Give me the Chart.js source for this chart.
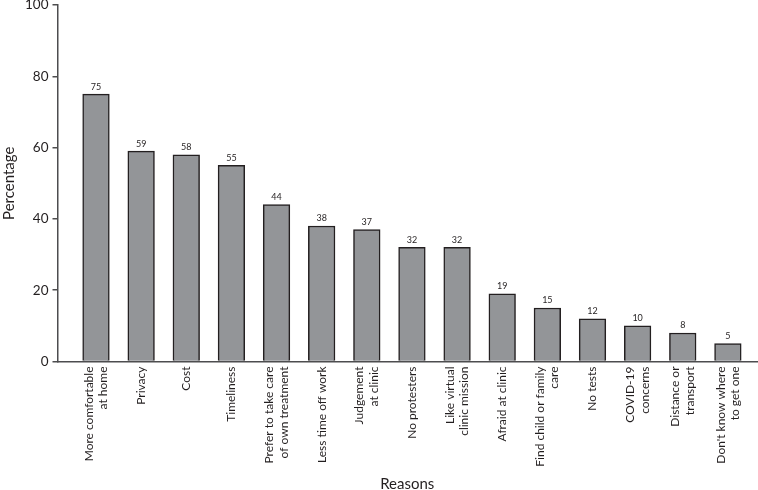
<!DOCTYPE html>
<html><head><meta charset="utf-8">
<script src="https://cdn.jsdelivr.net/npm/chart.js@4/dist/chart.umd.min.js"></script>
<style>html,body{margin:0;padding:0;background:#fff}#wrap{width:758px;height:490px}</style>
</head><body><div id="wrap"><canvas id="c" width="758" height="490"></canvas></div>
<script>
const categories = [["More comfortable","at home"],"Privacy","Cost","Timeliness",["Prefer to take care","of own treatment"],"Less time off work",["Judgement","at clinic"],"No protesters",["Like virtual","clinic mission"],"Afraid at clinic",["Find child or family","care"],"No tests",["COVID-19","concerns"],["Distance or","transport"],["Don't know where","to get one"]];
const percentages = [75,59,58,55,44,38,37,32,32,19,15,12,10,8,5];
const yTicks = [0,20,40,60,80,100];
const xAxisTitle = "Reasons";
const yAxisTitle = "Percentage";

const TEXT = '#231f20';
const AXIS = '#4d4d4f';
Chart.defaults.font.family = 'Lato, "Open Sans", sans-serif';
Chart.defaults.color = TEXT;

const LABEL_FONT_SIZE = 12;
const LABEL_LH = LABEL_FONT_SIZE * 1.2;

const shiftPlugin = {
  id: 'shiftX',
  afterLayout(chart) {
    const x = chart.scales.x;
    x._startValue = -0.853;
    x._valueRange = 15.498;
    if (!x._patched) {
      const orig = x.getPixelForTick.bind(x);
      x.getPixelForTick = function(i) {
        const lab = categories[i];
        const n = Array.isArray(lab) ? lab.length : 1;
        return orig(i) - (n - 1) * LABEL_LH / 2;
      };
      x._patched = true;
    }
  }
};

const valuePlugin = {
  id: 'valueLabels',
  afterDatasetsDraw(chart) {
    const ctx = chart.ctx;
    const meta = chart.getDatasetMeta(0);
    ctx.save();
    ctx.font = '9px Lato, "Open Sans", sans-serif';
    ctx.fillStyle = TEXT;
    ctx.textAlign = 'center';
    ctx.textBaseline = 'bottom';
    meta.data.forEach((bar, i) => {
      ctx.fillText(String(percentages[i]), bar.x, bar.y - 3);
    });
    ctx.restore();
  }
};

new Chart(document.getElementById('c'), {
  type: 'bar',
  data: {
    labels: categories,
    datasets: [{
      data: percentages,
      backgroundColor: '#939598',
      borderColor: TEXT,
      borderWidth: 1.5,
      barThickness: 'flex',
      categoryPercentage: 1,
      barPercentage: 0.59
    }]
  },
  options: {
    responsive: false,
    devicePixelRatio: 1,
    animation: false,
    layout: { padding: { top: 5, right: 1, left: 0, bottom: 0 } },
    plugins: { legend: { display: false }, tooltip: { enabled: false } },
    scales: {
      x: {
        z: 1,
        offset: true,
        grid: { display: false, drawTicks: false },
        border: { display: true, color: AXIS, width: 1.5 },
        ticks: {
          autoSkip: false,
          maxRotation: 90,
          minRotation: 90,
          padding: 5,
          color: TEXT,
          font: { size: LABEL_FONT_SIZE }
        },
        title: { display: true, text: xAxisTitle, color: TEXT, font: { size: 15 }, padding: { top: 0, bottom: -3 } },
        afterFit(s) { s.height = 128.5; s.paddingLeft = 0; s.paddingRight = 0; }
      },
      y: {
        min: 0,
        max: 100,
        afterBuildTicks(s) { s.ticks = yTicks.map(v => ({ value: v })); },
        grid: { drawOnChartArea: false, drawTicks: true, tickLength: 5, color: AXIS, lineWidth: 1.5 },
        border: { display: true, color: AXIS, width: 1.5 },
        ticks: { padding: 4, color: TEXT, font: { size: 13.5 } },
        title: { display: true, text: yAxisTitle, color: TEXT, font: { size: 15 }, padding: { top: 0, bottom: 0 } },
        afterFit(s) { s.width = 57.5; s.paddingTop = 0; s.paddingBottom = 0; }
      }
    }
  },
  plugins: [shiftPlugin, valuePlugin]
});
</script>
</body></html>
